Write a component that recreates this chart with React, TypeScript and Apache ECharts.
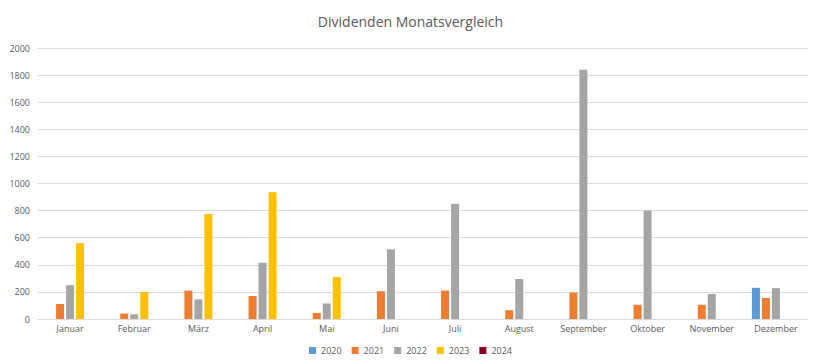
import React, { useEffect, useRef } from "react";
import * as echarts from "echarts";

const months = ["Januar", "Februar", "März", "April", "Mai", "Juni", "Juli", "August", "September", "Oktober", "November", "Dezember"];
const years = ["2020", "2021", "2022", "2023", "2024"];
const v2020 = [null, null, null, null, null, null, null, null, null, null, null, 230];
const v2021 = [110, 40, 210, 170, 45, 205, 210, 65, 195, 105, 105, 155];
const v2022 = [250, 35, 145, 415, 115, 515, 850, 295, 1840, 800, 185, 228];
const v2023 = [560, 200, 775, 935, 310, null, null, null, null, null, null, null];
const v2024 = [null, null, null, null, null, null, null, null, null, null, null, null];
const colors = ["#5B9BD5", "#ED7D31", "#A5A5A5", "#FFC000", "#7F0020"];

export default function App() {
  const ref = useRef<HTMLDivElement>(null);
  useEffect(() => {
    if (!ref.current) return;
    const chart = echarts.init(ref.current, null, { renderer: "svg" });
    const data = [v2020, v2021, v2022, v2023, v2024];
    chart.setOption({
      animation: false,
      color: colors,
      textStyle: { fontFamily: "Open Sans" },
      title: {
        text: "Dividenden Monatsvergleich",
        left: "center",
        top: 9,
        textStyle: { fontSize: 14, fontWeight: "normal", color: "#595959", fontFamily: "Open Sans" },
      },
      legend: {
        bottom: 2,
        left: "center",
        itemWidth: 7,
        itemHeight: 7,
        itemGap: 10,
        icon: "rect",
        textStyle: { fontSize: 9, color: "#595959", fontFamily: "Open Sans" },
        data: years,
      },
      grid: { left: 38, right: 13, top: 48, bottom: 43, containLabel: false },
      xAxis: {
        type: "category",
        data: months,
        axisLine: { lineStyle: { color: "#D9D9D9" } },
        axisTick: { show: false },
        axisLabel: { fontSize: 9, color: "#595959", margin: 5, interval: 0 },
      },
      yAxis: {
        type: "value",
        min: 0,
        max: 2000,
        interval: 200,
        axisLine: { show: false },
        axisTick: { show: false },
        splitLine: { lineStyle: { color: "#D9D9D9" } },
        axisLabel: { fontSize: 9, color: "#595959", margin: 8, formatter: (v: number) => String(v) },
      },
      series: years.map((y, i) => ({
        name: y,
        type: "bar",
        data: data[i],
        barWidth: 8,
        barGap: "25%",
        itemStyle: { color: colors[i] },
      })),
    });
    return () => chart.dispose();
  }, []);
  return <div ref={ref} style={{ width: 821, height: 362, margin: -8 }} />;
}
